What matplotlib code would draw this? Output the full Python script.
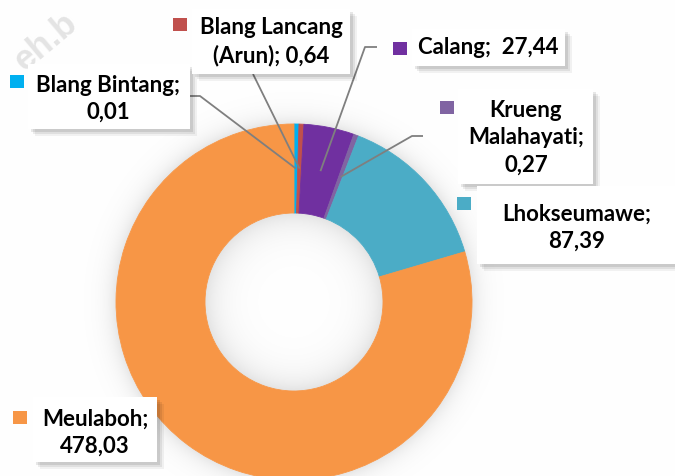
import numpy as np
import matplotlib
matplotlib.use("Agg")
import matplotlib.pyplot as plt
from matplotlib.patches import Rectangle

# ---- data ----
categories = ["Blang Bintang", "Blang Lancang (Arun)", "Calang",
              "Krueng Malahayati", "Lhokseumawe", "Meulaboh"]
values = [0.01, 0.64, 27.44, 0.27, 87.39, 478.03]
label_texts = ["Blang Bintang;\n0,01", "Blang Lancang\n(Arun); 0,64",
               "Calang;  27,44", "Krueng\nMalahayati;\n0,27",
               "Lhokseumawe;\n87,39", "Meulaboh;\n478,03"]
colors = ["#00B0F0", "#C0504D", "#7030A0", "#8064A2", "#4BACC6", "#F79646"]

# ---- layout (pixels, y measured from top) ----
W, H = 675, 477
CX, CY = 294, 303
R, r = 178, 89
boxes = [(28, 65, 190, 130), (192, 10, 350, 75), (412, 30, 565, 67),
         (458, 90, 593, 185), (477, 187, 690, 265), (33, 398, 157, 463)]
text_centers = [(108, 99), (271, 42), (488, 48), (526, 138), (577, 228), (95, 433)]
squares = [(10, 76), (173, 19), (393, 43), (440, 102), (457, 198), (13, 412)]
leader_starts = [[(190, 97), (200, 97)], [(253, 75)], [(377, 48), (365, 48)],
                 [(423, 137), (412, 137)], None, None]
MIN_SHARE = 0.0045  # smallest visible slice share (as the source renders it)

FONT = "Lato"

fig = plt.figure(figsize=(6.75, 4.77), dpi=100)
ax = fig.add_axes([0, 0, 1, 1])


def Y(y):
    return H - y


# soft glow background around the donut and inside the hole
yy, xx = np.mgrid[0:H, 0:W] + 0.5
d = np.hypot(xx - CX, yy - CY)
shade = np.zeros_like(d)
out = d > R
shade[out] = 0.10 * np.exp(-(d[out] - R) / 10.0)
inn = d < r
shade[inn] = 0.11 * np.exp(-(r - d[inn]) / 16.0)
img = 1 - shade
ax.imshow(np.dstack([img] * 3), extent=(0, W, 0, H), origin="upper",
          zorder=0, interpolation="bilinear")

# watermark
ax.text(46, Y(42), "eh.b", rotation=40, color="#e4e4e4", fontsize=25,
        fontweight="bold", family="Liberation Sans", ha="center", va="center",
        zorder=1)

# donut (tiny slices get a minimum visible share)
vals = np.asarray(values, dtype=float)
display_vals = np.maximum(vals, MIN_SHARE * vals.sum())
wedges, _ = ax.pie(display_vals, colors=colors, startangle=90, counterclock=False,
                   radius=R, center=(CX, Y(CY)),
                   wedgeprops=dict(width=R - r, linewidth=0.6))
for w, c in zip(wedges, colors):
    w.set_edgecolor(c)
    w.set_zorder(2)

# leader lines to the middle of each wedge
rm = (R + r) / 2
for i, w in enumerate(wedges):
    if leader_starts[i] is None:
        continue
    mid = np.deg2rad((w.theta1 + w.theta2) / 2)
    ex = CX + rm * np.cos(mid)
    ey = Y(CY) + rm * np.sin(mid)
    pts = [(x, Y(y)) for x, y in leader_starts[i]] + [(ex, ey)]
    xs, ys = zip(*pts)
    ax.plot(xs, ys, color="#7f7f7f", lw=1.3, zorder=7, solid_capstyle="butt")

# label boxes
for i in range(len(values)):
    l, t, rr, b = boxes[i]
    for k, a in zip([7, 5, 3], [0.05, 0.07, 0.09]):
        ax.add_patch(Rectangle((l + k, Y(b + k)), rr - l, b - t, fc="black",
                               alpha=a, lw=0, zorder=8))
    ax.add_patch(Rectangle((l, Y(b)), rr - l, b - t, fc="white", lw=0, zorder=9))
    sx, sy = squares[i]
    ax.add_patch(Rectangle((sx, Y(sy + 13)), 14, 13, fc=colors[i], lw=0, zorder=9))
    tx, ty = text_centers[i]
    ax.text(tx, Y(ty), label_texts[i], ha="center", va="center",
            multialignment="center", fontsize=16, fontweight="bold",
            family=FONT, color="black", zorder=10, linespacing=1.37)

ax.set_xlim(0, W)
ax.set_ylim(0, H)
ax.set_aspect("auto")
ax.axis("off")
fig.savefig("out.png", dpi=100)
